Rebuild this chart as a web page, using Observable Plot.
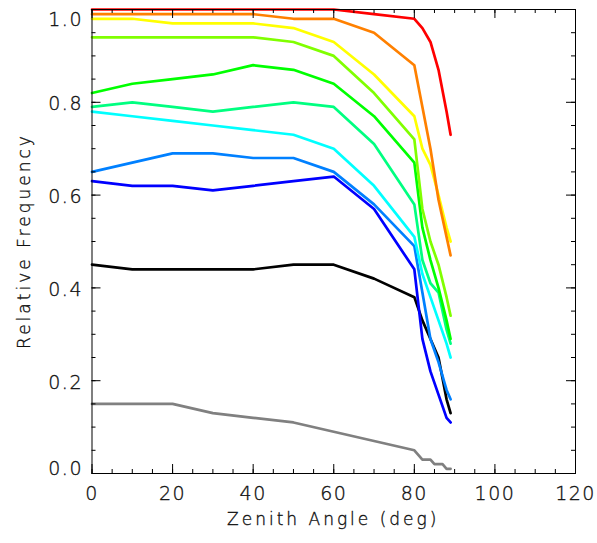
<!DOCTYPE html>
<html><head><meta charset="utf-8">
<script src="https://cdn.jsdelivr.net/npm/d3@7"></script>
<script src="https://cdn.jsdelivr.net/npm/@observablehq/plot@0.6"></script>
<style>body{margin:0;background:#fff} svg{display:block}</style>
</head><body><div id="chart"></div>
<script>
// Zenith angles (deg) shared by most curves
const angles = [0, 10, 20, 30, 40, 50, 60, 70, 80, 82, 84, 86, 88, 89];
const redValues        = [1.00, 1.00, 1.00, 1.00, 1.00, 1.00, 1.00, 0.99, 0.98, 0.96, 0.93, 0.87, 0.78, 0.73];
const orangeValues     = [0.99, 0.99, 0.99, 0.99, 0.99, 0.98, 0.98, 0.95, 0.88, 0.79, 0.70, 0.59, 0.51, 0.47];
const yellowValues     = [0.98, 0.98, 0.97, 0.97, 0.97, 0.96, 0.93, 0.86, 0.77, 0.70, 0.665, 0.60, 0.53, 0.50];
const chartreuseValues = [0.94, 0.94, 0.94, 0.94, 0.94, 0.93, 0.90, 0.82, 0.72, 0.57, 0.50, 0.45, 0.38, 0.34];
const greenValues      = [0.82, 0.84, 0.85, 0.86, 0.88, 0.87, 0.84, 0.77, 0.67, 0.53, 0.46, 0.40, 0.33, 0.29];
const springValues     = [0.79, 0.80, 0.79, 0.78, 0.79, 0.80, 0.79, 0.71, 0.58, 0.46, 0.41, 0.39, 0.31, 0.28];
const cyanValues       = [0.78, 0.77, 0.76, 0.75, 0.74, 0.73, 0.70, 0.62, 0.51, 0.43, 0.38, 0.33, 0.28, 0.25];
const azureValues      = [0.65, 0.67, 0.69, 0.69, 0.68, 0.68, 0.65, 0.58, 0.49, 0.39, 0.29, 0.24, 0.18, 0.16];
const blueValues       = [0.63, 0.62, 0.62, 0.61, 0.62, 0.63, 0.64, 0.57, 0.44, 0.29, 0.22, 0.17, 0.12, 0.11];
const blackValues      = [0.45, 0.44, 0.44, 0.44, 0.44, 0.45, 0.45, 0.42, 0.38, 0.33, 0.29, 0.25, 0.16, 0.13];
// gray curve has its own angle samples (staircase tail)
const grayAngles = [0, 10, 20, 30, 40, 50, 60, 70, 80, 82, 84, 85, 87, 88, 89];
const grayValues = [0.15, 0.15, 0.15, 0.13, 0.12, 0.11, 0.09, 0.07, 0.05, 0.03, 0.03, 0.02, 0.02, 0.01, 0.01];

const seriesColors = ["#808080", "#000000", "#0000ff", "#0080ff", "#00ffff", "#00ff80", "#00ff00", "#80ff00", "#ffff00", "#ff8000", "#ff0000"];
const seriesAngles = [grayAngles, angles, angles, angles, angles, angles, angles, angles, angles, angles, angles];
const seriesValues = [grayValues, blackValues, blueValues, azureValues, cyanValues, springValues, greenValues, chartreuseValues, yellowValues, orangeValues, redValues];

const xTicks = [0, 20, 40, 60, 80, 100, 120];
const xMinorTicks = d3.range(0, 121, 5);
const yTicksMid = [0.2, 0.4, 0.6, 0.8];
const yMinorTicks = d3.range(0, 21).map(i => i * 0.05);
const yMajorTicks = [0, 0.2, 0.4, 0.6, 0.8, 1.0];
const xTitle = "Zenith Angle (deg)";
const yTitle = "Relative Frequency";

const W = 597, H = 543;
const mL = 91.5, mR = 22, mT = 9, mB = 70;
const plotW = W - mL - mR, plotH = H - mT - mB;

const lineMarks = seriesValues.map((vals, k) =>
  Plot.line(seriesAngles[k].map((a, i) => ({angle: a, value: vals[i]})),
    {x: "angle", y: "value", stroke: seriesColors[k], strokeWidth: 2.7, strokeLinejoin: "round"}));

const fmt = d3.format(".1f");
const chart = Plot.plot({
  width: W, height: H,
  marginLeft: mL, marginRight: mR, marginTop: mT, marginBottom: mB,
  x: {domain: [0, 120], label: null},
  y: {domain: [0, 1], label: null},
  style: {fontFamily: "'DejaVu Sans', sans-serif", fontSize: "19px", background: "white", color: "black"},
  marks: [
    ...lineMarks,
    Plot.frame({stroke: "black", strokeWidth: 1}),
    // bottom ticks
    Plot.ruleX(xMinorTicks, {x: d => d, insetTop: plotH - 4, stroke: "black"}),
    Plot.ruleX(xTicks, {x: d => d, insetTop: plotH - 9, stroke: "black"}),
    // top ticks
    Plot.ruleX(xMinorTicks, {x: d => d, insetBottom: plotH - 4, stroke: "black"}),
    Plot.ruleX(xTicks, {x: d => d, insetBottom: plotH - 9, stroke: "black"}),
    // left ticks
    Plot.ruleY(yMinorTicks, {y: d => d, insetRight: plotW - 4, stroke: "black"}),
    Plot.ruleY(yMajorTicks, {y: d => d, insetRight: plotW - 9, stroke: "black"}),
    // right ticks
    Plot.ruleY(yMinorTicks, {y: d => d, insetLeft: plotW - 4, stroke: "black"}),
    Plot.ruleY(yMajorTicks, {y: d => d, insetLeft: plotW - 9, stroke: "black"}),
    Plot.axisX({ticks: xTicks, tickSize: 0, tickPadding: 13, label: null, fontSize: 19, fontWeight: 200}),
    Plot.axisY({ticks: yTicksMid, tickSize: 0, tickPadding: 9, dy: 2, tickFormat: fmt, label: null, fontSize: 19, fontWeight: 200}),
    Plot.axisY({ticks: [0], tickSize: 0, tickPadding: 9, dy: -5, tickFormat: fmt, label: null, fontSize: 19, fontWeight: 200}),
    Plot.axisY({ticks: [1], tickSize: 0, tickPadding: 9, dy: 10, tickFormat: fmt, label: null, fontSize: 19, fontWeight: 200})
  ]
});

const svg = d3.select(chart);
svg.selectAll("text").attr("letter-spacing", "1.5px").attr("fill", "#111")
  .attr("stroke", "#111").attr("stroke-width", 0.35);
svg.append("text")
  .attr("x", mL + plotW / 2).attr("y", 525)
  .attr("text-anchor", "middle")
  .attr("font-family", "'DejaVu Sans', sans-serif").attr("font-size", 17).attr("font-weight", 200)
  .attr("letter-spacing", "3px").attr("fill", "#111").attr("stroke", "#111").attr("stroke-width", 0.35)
  .text(xTitle);
svg.append("text")
  .attr("transform", `translate(30,${mT + plotH / 2}) rotate(-90)`)
  .attr("text-anchor", "middle")
  .attr("font-family", "'DejaVu Sans', sans-serif").attr("font-size", 17).attr("font-weight", 200)
  .attr("letter-spacing", "3px").attr("fill", "#111").attr("stroke", "#111").attr("stroke-width", 0.35)
  .text(yTitle);
document.getElementById("chart").appendChild(chart);
</script>
</body></html>
